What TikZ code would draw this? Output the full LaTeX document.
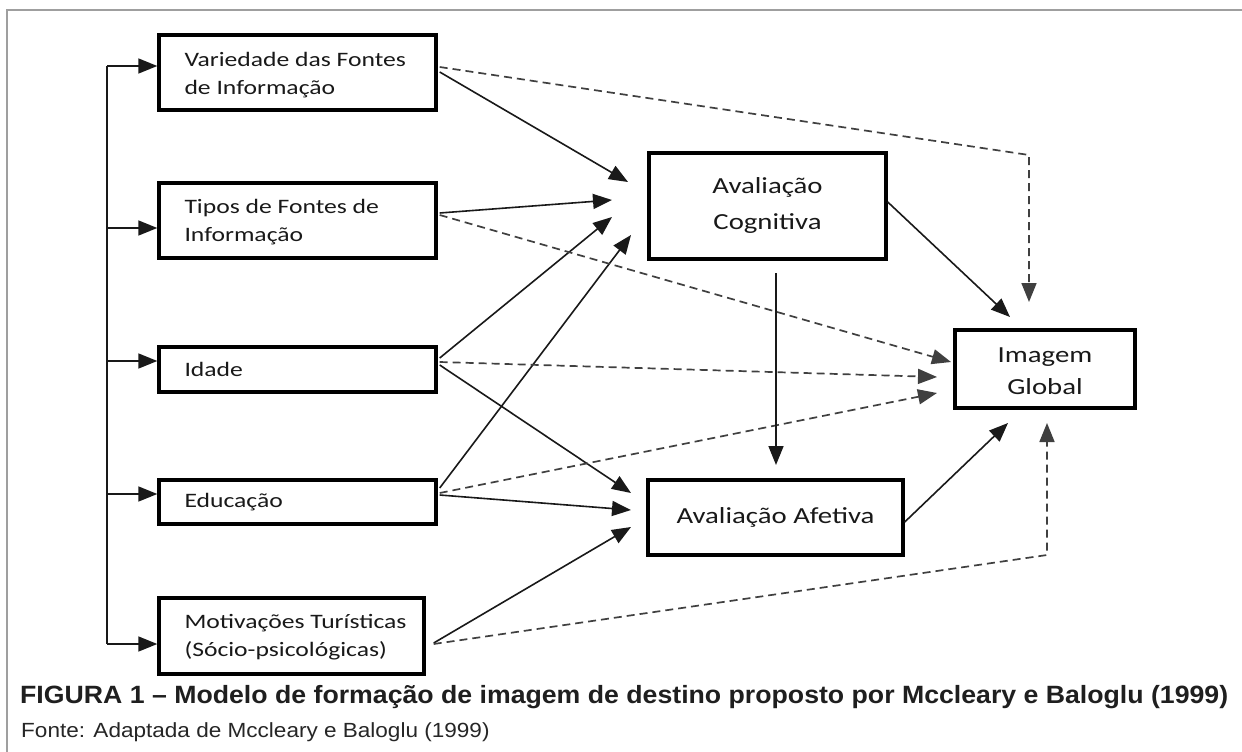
\documentclass[tikz,border=0pt]{standalone}
\usepackage{fontspec}
\setmainfont{Liberation Sans}
\newfontfamily\boxfont[FakeStretch=1.25]{Carlito}
\usetikzlibrary{arrows.meta}
\begin{document}
\begin{tikzpicture}[x=1pt,y=-1pt,
  box/.style={draw=black, line width=3.4pt, inner sep=0pt},
  lbl/.style={font=\boxfont\fontsize{20.5}{28}\selectfont, align=left, inner sep=0pt, text=black!90},
  big/.style={font=\boxfont\fontsize{23}{36}\selectfont, align=center, inner sep=0pt, text=black!90},
  conn/.style={line width=1.6pt, draw=black!90, -{Triangle[length=19pt,width=15pt]}},
  dconn/.style={conn, draw=black!75, line width=1.7pt, dash pattern=on 8pt off 5pt},
  bus/.style={line width=1.6pt, draw=black!90},
]
\useasboundingbox (0,0) rectangle (1242,752);
\fill[white] (0,0) rectangle (1242,752);
% frame
\draw[gray!75, line width=1.6pt] (7,752) -- (7,10) -- (1242,10);

% boxes
\node[box, minimum width=277pt, minimum height=75pt] (var) at (297.5,72.5) {};
\node[lbl, anchor=west] (varT) at ([xshift=27pt,yshift=-3pt]var.west) {Variedade das Fontes\\de Informação};
\node[box, minimum width=277pt, minimum height=75pt] (tip) at (297.5,220.5) {};
\node[lbl, anchor=west] (tipT) at ([xshift=27pt,yshift=-2pt]tip.west) {Tipos de Fontes de\\Informação};
\node[box, minimum width=277pt, minimum height=45pt] (ida) at (297.5,369.5) {};
\node[lbl, anchor=west] (idaT) at ([xshift=27pt]ida.west) {Idade};
\node[box, minimum width=277pt, minimum height=44pt] (edu) at (297.5,502) {};
\node[lbl, anchor=west] (eduT) at ([xshift=27pt]edu.west) {Educação};
\node[box, minimum width=265pt, minimum height=76pt] (mot) at (291.5,636) {};
\node[lbl, anchor=west] (motT) at ([xshift=27pt,yshift=-1pt]mot.west) {Motivações Turísticas\\(Sócio-psicológicas)};
\node[box, minimum width=237pt, minimum height=106pt] (cog) at (767.5,206) {};
\node[big] (cogT) at ([yshift=1pt]cog.center) {Avaliação\\Cognitiva};
\node[box, minimum width=255pt, minimum height=75pt] (afe) at (775.5,517.5) {};
\node[big] (afeT) at (afe.center) {Avaliação Afetiva};
\node[box, minimum width=180pt, minimum height=78pt] (img) at (1045,369) {};
\node[big, font=\boxfont\fontsize{23}{32}\selectfont] (imgT) at ([yshift=-2pt]img.center) {Imagem\\Global};

% arrow end points
\coordinate (bTop) at (107,66);
\coordinate (b2) at (107,228);
\coordinate (b3) at (107,361);
\coordinate (b4) at (107,494);
\coordinate (bBot) at (107,644);
\coordinate (c1) at (628,182);
\coordinate (c2) at (612,200);
\coordinate (c3) at (612,217);
\coordinate (c4) at (631,235);
\coordinate (a1) at (631,493);
\coordinate (a2) at (631,510);
\coordinate (a3) at (631,527);
\coordinate (g1) at (951,362);
\coordinate (g2) at (937,377);
\coordinate (g3) at (937,393);
\coordinate (vCorner) at (1029,155);
\coordinate (vTip) at (1029,302);
\coordinate (mCorner) at (1047,555);
\coordinate (mTip) at (1047,423);
\coordinate (cgTip) at (1010,317);
\coordinate (afTip) at (1008,423);
\coordinate (vStart) at (776,273);
\coordinate (vEnd) at (776,465);

% left bus
\draw[bus] (bTop) -- (bBot);
\draw[conn] (bTop) -- (bTop -| var.west);
\draw[conn] (b2) -- (b2 -| tip.west);
\draw[conn] (b3) -- (b3 -| ida.west);
\draw[conn] (b4) -- (b4 -| edu.west);
\draw[conn] (bBot) -- (bBot -| mot.west);

% to cognitive
\draw[conn] ([xshift=2pt,yshift=0.5pt]var.east) -- (c1);
\draw[conn] ([xshift=2pt,yshift=7.5pt]tip.east) -- (c2);
\draw[conn] ([xshift=2pt,yshift=11.5pt]ida.east) -- (c3);
\draw[conn] ([xshift=2pt,yshift=14pt]edu.east) -- (c4);
% to affective
\draw[conn] ([xshift=2pt,yshift=4.5pt]ida.east) -- (a1);
\draw[conn] ([xshift=2pt,yshift=7pt]edu.east) -- (a2);
\draw[conn] ([xshift=8pt,yshift=-7pt]mot.east) -- (a3);
% dashed to global
\draw[dconn] ([xshift=2pt,yshift=5.5pt]var.east) -- (vCorner) -- (vTip);
\draw[dconn] ([xshift=2pt,yshift=5.5pt]tip.east) -- (g1);
\draw[dconn] ([xshift=2pt,yshift=7.5pt]ida.east) -- (g2);
\draw[dconn] ([xshift=2pt,yshift=9pt]edu.east) -- (g3);
\draw[dconn] ([xshift=8pt,yshift=-8pt]mot.east) -- (mCorner) -- (mTip);
% cognitive / affective to global
\draw[conn] ([yshift=4pt]cog.east) -- (cgTip);
\draw[conn] (vStart) -- (vEnd);
\draw[conn] ([yshift=-4.5pt]afe.east) -- (afTip);

% caption
\node[anchor=west, inner sep=0pt, text=black!88, font=\bfseries\fontsize{25}{30}\selectfont] (cap) at (20,697)
  {\scalebox{1.067}[1]{FIGURA 1 – Modelo de formação de imagem de destino proposto por Mccleary e Baloglu (1999)}};
\node[anchor=west, inner sep=0pt, text=black!85, font=\fontsize{20.5}{24}\selectfont] (src) at (21,732)
  {\scalebox{1.1}[1]{Fonte: Adaptada de Mccleary e Baloglu (1999)}};
\end{tikzpicture}
\end{document}
